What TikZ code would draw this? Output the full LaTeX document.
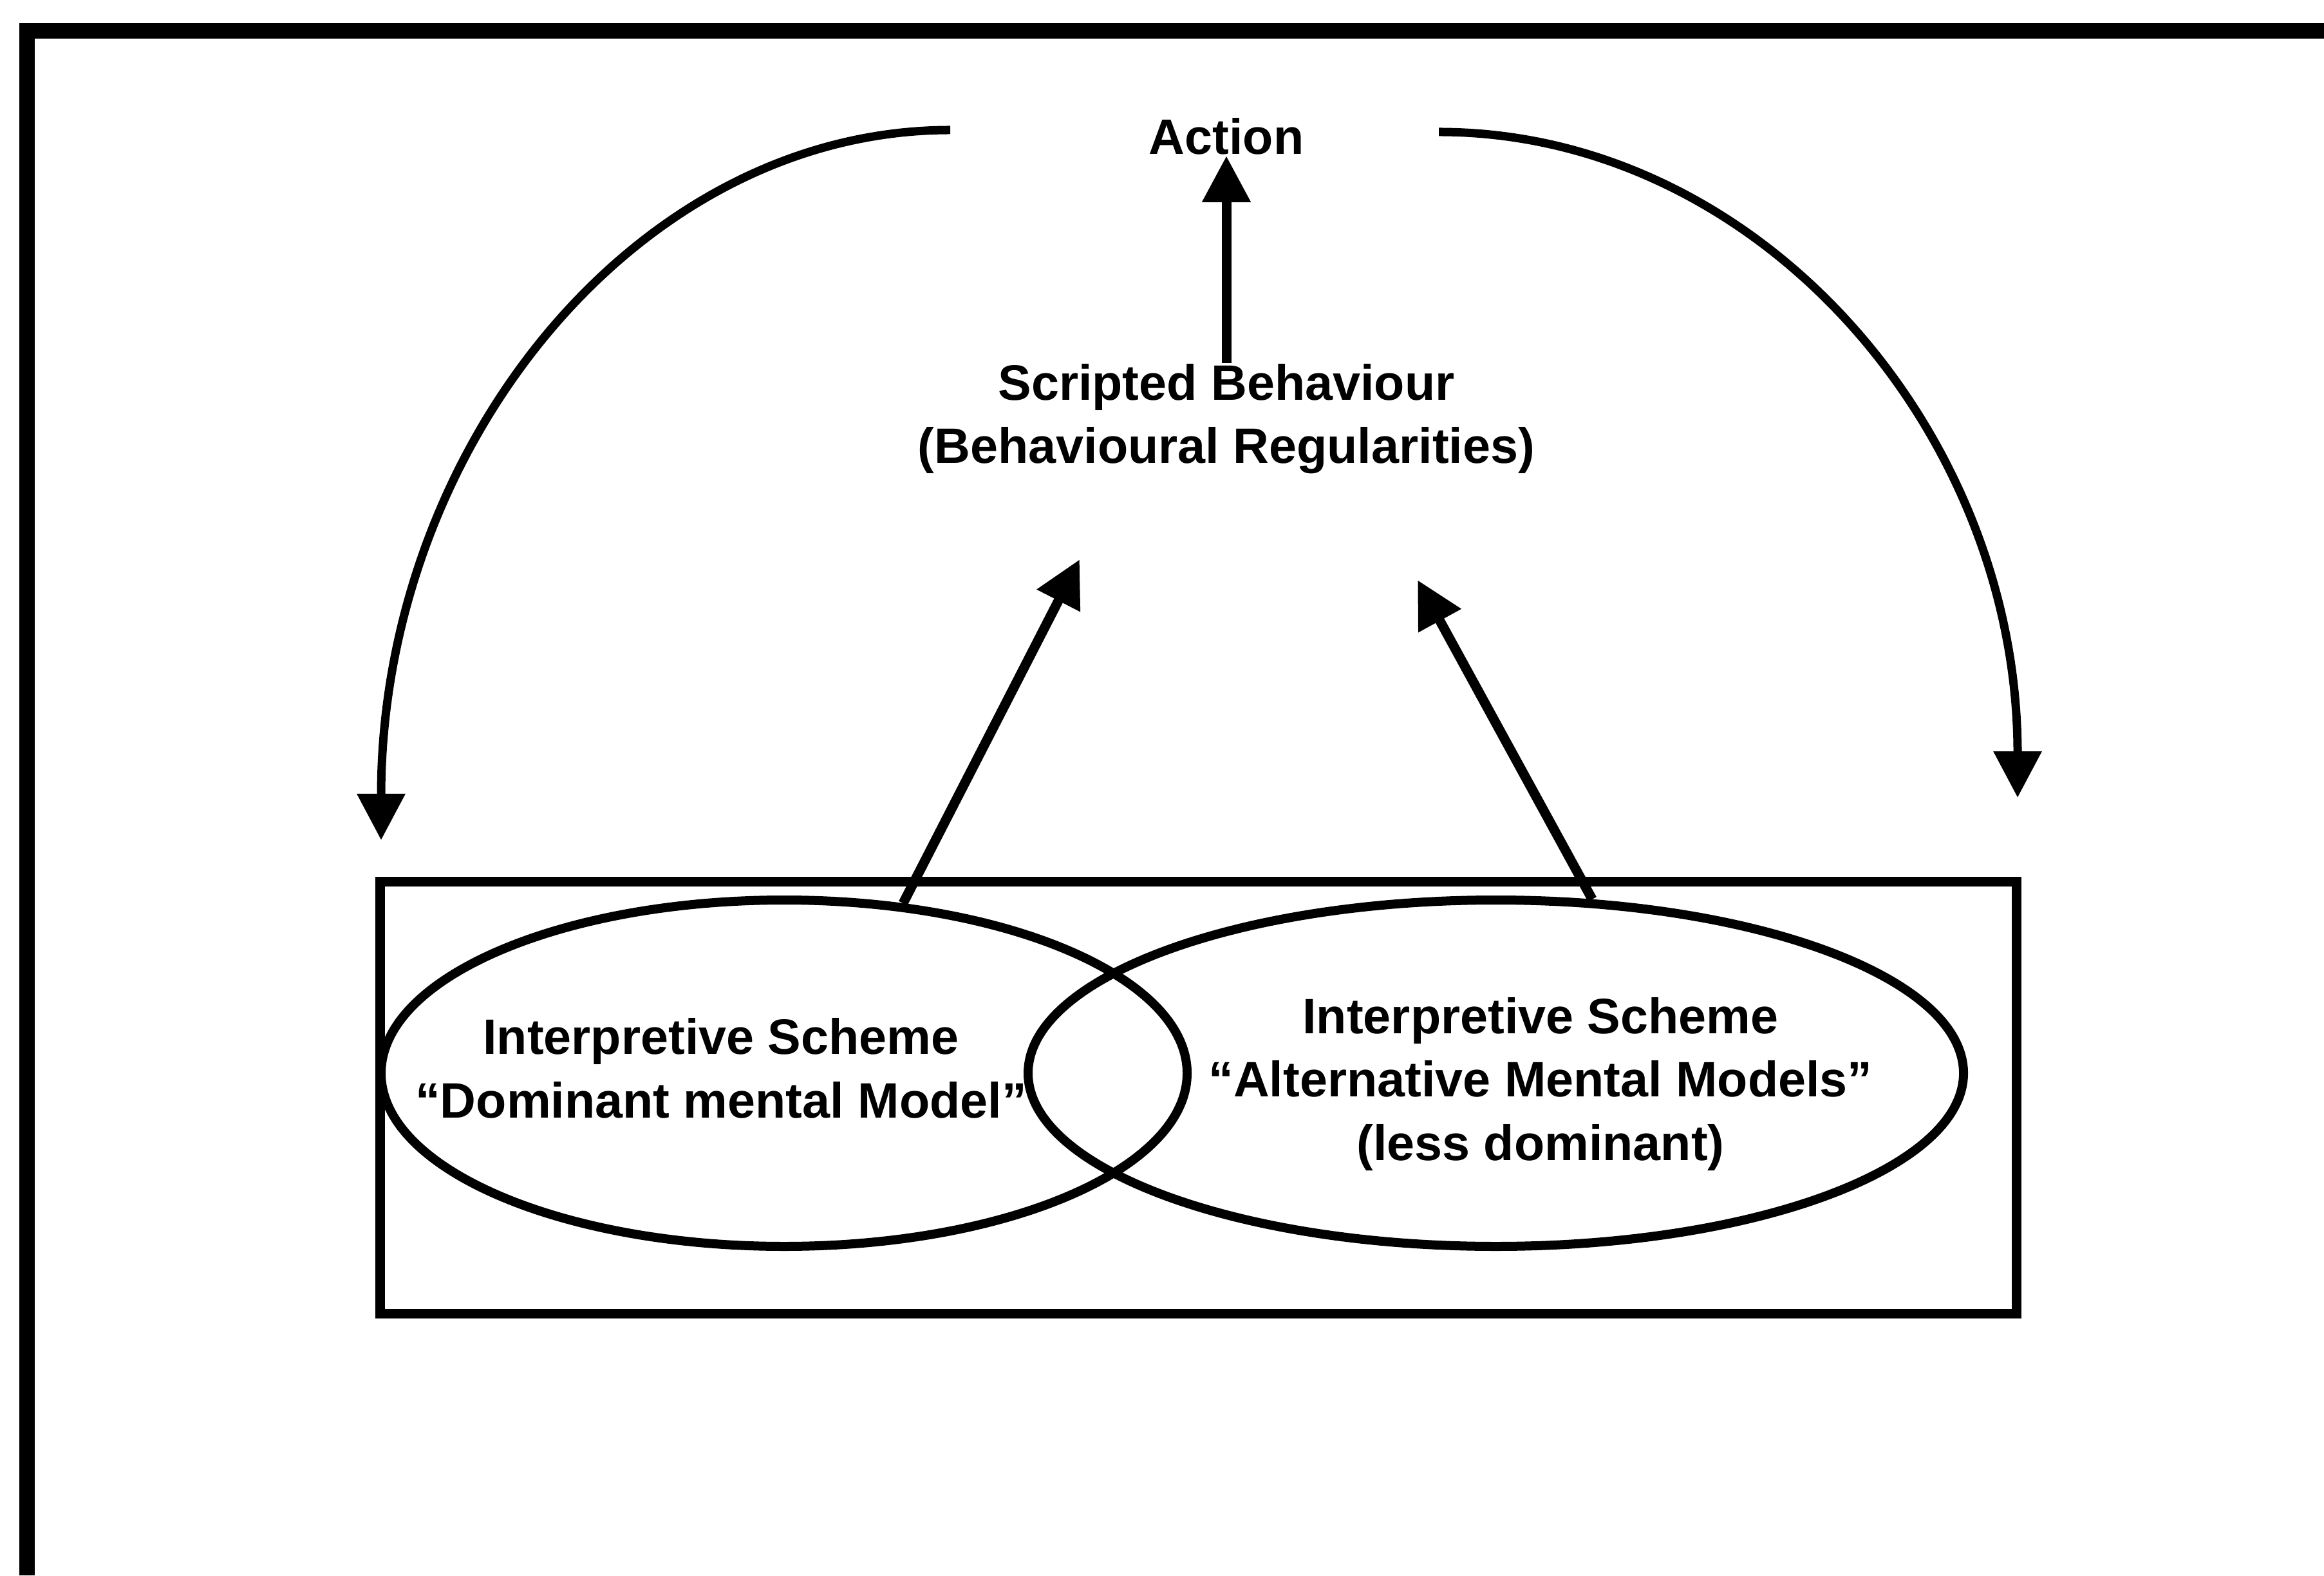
\documentclass[tikz,border=0pt]{standalone}
\usepackage{fontspec}
\setmainfont{Liberation Sans}
\usetikzlibrary{arrows.meta, shapes.geometric}

\begin{document}
\begin{tikzpicture}[
  lbl/.style={font=\fontsize{11}{14}\selectfont\bfseries, align=center, inner sep=0pt},
  flow/.style={line width=0.075cm, -{Triangle[length=0.36cm, width=0.36cm]}},
  scheme/.style={draw, ellipse, line width=0.07cm, minimum height=2.69cm, inner sep=0pt}
]
  \useasboundingbox (0,0) rectangle (18.05,12.235);

  % Outer frame (cut off at right and bottom)
  \draw[line width=0.12cm] (0.21,0) |- (18.05,11.995);

  % --- Top: action and scripted behaviour ---
  \node[lbl, anchor=base] (action) at (9.525,11.035) {Action};
  \node[lbl] (sb) at (9.525,8.9825) {Scripted Behaviour\\(Behavioural Regularities)};
  \draw[flow] (sb.north) -- (action.south);

  % --- Bottom: interpretive schemes ---
  \node[draw, line width=0.075cm, minimum width=12.71cm, minimum height=3.355cm, inner sep=0pt] (grp) at (9.305,3.7125) {};
  \node[scheme, minimum width=6.26cm] (dom) at (6.09,3.9) {};
  \node[scheme, minimum width=7.265cm] (alt) at (11.6175,3.9) {};
  \node[lbl] (domtxt) at (5.6,3.9375) {Interpretive Scheme\\“Dominant mental Model”};
  \node[lbl] (alttxt) at (11.965,3.815) {Interpretive Scheme\\“Alternative Mental Models”\\(less dominant)};

  % Arrows up to scripted behaviour
  \coordinate (tipL) at (8.385,7.89);
  \coordinate (tipR) at (11.01,7.73);
  \draw[flow] (dom.55) -- (tipL);
  \draw[flow] (alt.61) -- (tipR);

  % Feedback arcs from action
  \coordinate (arcLs) at (7.38,11.225);
  \coordinate (arcLe) at (2.96,5.71);
  \coordinate (arcRs) at (11.175,11.21);
  \coordinate (arcRe) at (15.67,6.04);
  \draw[flow, line width=0.065cm] (arcLs) .. controls +(-2.44,0) and +(0,3.04) .. (arcLe);
  \draw[flow, line width=0.065cm] (arcRs) .. controls +(2.48,0) and +(0,2.85) .. (arcRe);
\end{tikzpicture}
\end{document}
